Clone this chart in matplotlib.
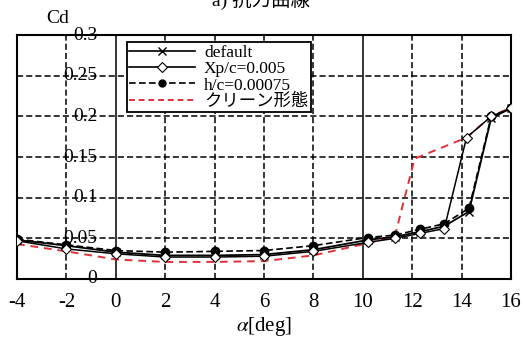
import matplotlib
matplotlib.use("Agg")
import matplotlib.pyplot as plt
from matplotlib.lines import Line2D

plt.rcParams['font.family'] = ['Liberation Serif', 'Noto Sans CJK JP', 'DejaVu Sans']
plt.rcParams['mathtext.fontset'] = 'stix'

title = "a) 抗力曲線"
x_label = r"$\alpha$[deg]"
y_label = "Cd"
x_ticks = [-4, -2, 0, 2, 4, 6, 8, 10, 12, 14, 16]
y_ticks = [0, 0.05, 0.1, 0.15, 0.2, 0.25, 0.3]
y_tick_labels = ["0", "0.05", "0.1", "0.15", "0.2", "0.25", "0.3"]

names = ["default", "Xp/c=0.005", "h/c=0.00075", "クリーン形態"]

alpha_default = [-4, -2, 0, 2, 4, 6, 8, 10.2, 11.3, 12.3, 13.3, 14.3, 15.2, 16]
cd_default = [0.048, 0.041, 0.033, 0.029, 0.029, 0.030, 0.036, 0.048, 0.052, 0.058, 0.065, 0.083, 0.198, 0.210]

alpha_xp = [-4, -2, 0, 2, 4, 6, 8, 10.2, 11.3, 12.3, 13.3, 14.2, 15.2, 16]
cd_xp = [0.047, 0.037, 0.031, 0.027, 0.027, 0.028, 0.034, 0.045, 0.050, 0.056, 0.062, 0.174, 0.200, 0.210]

alpha_hc = [-4, -2, 0, 2, 4, 6, 8, 10.2, 11.3, 12.3, 13.3, 14.3, 15.2, 16]
cd_hc = [0.049, 0.042, 0.035, 0.033, 0.034, 0.035, 0.041, 0.051, 0.054, 0.061, 0.068, 0.087, 0.200, 0.210]

alpha_clean = [-4, -2, 0, 2, 4, 6, 8, 10.2, 11.3, 12.1, 14.2, 15.2, 16]
cd_clean = [0.043, 0.034, 0.024, 0.021, 0.021, 0.022, 0.029, 0.044, 0.053, 0.148, 0.174, 0.200, 0.211]

fig = plt.figure(figsize=(5.23, 3.38), dpi=100)
ax = fig.add_axes([0.0325, 0.1746, 0.9445, 0.7214])
ax.set_xlim(-4, 16)
ax.set_ylim(0, 0.3)

# grid
for xv in x_ticks[1:-1]:
    if xv in (0, 10):
        ax.axvline(xv, color='black', lw=1.1, zorder=1)
    else:
        ax.axvline(xv, color='black', lw=1.1, ls=(0, (4, 2)), zorder=1)
for yv in y_ticks[1:-1]:
    ax.axhline(yv, color='black', lw=1.1, ls=(0, (4, 2)), zorder=1)

ax.plot(alpha_clean, cd_clean, color='#e0303a', lw=1.4, ls=(0, (4, 3)), zorder=2)
ax.plot(alpha_hc, cd_hc, color='black', lw=1.2, ls=(0, (4, 2)), marker='o', ms=6,
        mfc='black', mec='black', zorder=3)
ax.plot(alpha_default, cd_default, color='black', lw=1.3, marker='x', ms=6, zorder=4)
ax.plot(alpha_xp, cd_xp, color='black', lw=1.1, marker='D', ms=5.5, mfc='white',
        mec='black', mew=0.8, zorder=5)

for s in ax.spines.values():
    s.set_linewidth(1.5)
    s.set_color('black')

ax.set_xticks(x_ticks)
ax.set_xticklabels([str(t) for t in x_ticks])
ax.set_yticks([])
ax.tick_params(axis='x', length=0, pad=10, labelsize=15)

for yv, lab in zip(y_ticks, y_tick_labels):
    ax.text(-0.75, yv, lab, ha='right', va='center', fontsize=14, zorder=6,
            clip_on=False)

ax.set_xlabel(x_label, fontsize=15, labelpad=2)
fig.text(0.088, 0.945, y_label, fontsize=14, ha='left', va='center')
fig.text(0.5, 1.0, title, fontsize=14, ha='center', va='center')

handles = [
    Line2D([], [], color='black', lw=1.2, marker='x', ms=6),
    Line2D([], [], color='black', lw=1.2, marker='D', ms=5.5, mfc='white', mec='black', mew=0.8),
    Line2D([], [], color='black', lw=1.2, ls=(0, (4, 2)), marker='o', ms=5),
    Line2D([], [], color='#e0303a', lw=1.4, ls=(0, (3, 2))),
]
leg = ax.legend(handles, names, loc='upper left', bbox_to_anchor=(0.222, 0.97),
                fontsize=12.5, frameon=True, fancybox=False, framealpha=1,
                edgecolor='black', borderpad=0.15, labelspacing=0.0,
                handlelength=3.8, handletextpad=0.5, borderaxespad=0)
leg.get_frame().set_linewidth(1.3)
leg.set_zorder(10)

fig.savefig("out.png", dpi=100)
